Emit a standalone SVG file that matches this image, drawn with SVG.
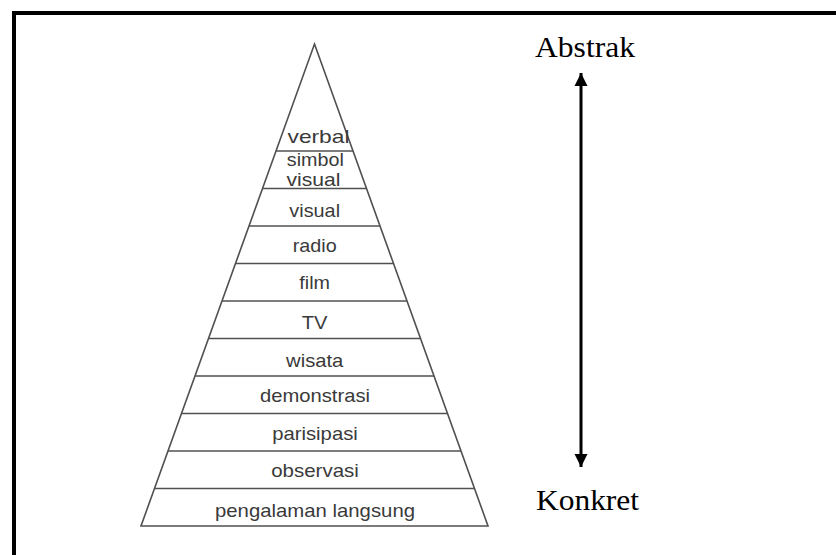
<svg xmlns="http://www.w3.org/2000/svg" width="836" height="555" viewBox="0 0 836 555">
<style>
.edge{stroke:#505050;stroke-width:1.6;fill:none}
.lbl{font-family:"Liberation Sans",Arial,sans-serif;font-size:19px;fill:#3a3a3a;text-anchor:middle}
.big{font-family:"Liberation Serif","Times New Roman",serif;font-size:30px;fill:#000;text-anchor:middle}
</style>
<defs>
<marker id="ah" viewBox="0 0 10 10" refX="10" refY="5" markerWidth="4.4" markerHeight="4.4" orient="auto-start-reverse" markerUnits="strokeWidth">
<path d="M0,0 L10,5 L0,10 z" fill="#000"/>
</marker>
</defs>
<rect width="836" height="555" fill="#fff"/>
<rect x="14" y="13" width="830" height="560" fill="none" stroke="#000" stroke-width="4"/>
<g id="pyramid">
<polygon class="edge" points="314.5,44 488,526 141,526" stroke-linejoin="miter"/>
</g>
<g id="level-verbal">
<line class="edge" x1="276" y1="151" x2="353" y2="151"/>
<text class="lbl" x="318.5" y="143" textLength="62" lengthAdjust="spacingAndGlyphs" font-size="20.5">verbal</text>
</g>
<g id="level-simbol-visual">
<line class="edge" x1="262.5" y1="188.5" x2="366.5" y2="188.5"/>
<text class="lbl" x="315.3" y="166" textLength="57" lengthAdjust="spacingAndGlyphs" font-size="16.5">simbol</text>
<text class="lbl" x="313.5" y="185.5" textLength="54" lengthAdjust="spacingAndGlyphs" font-size="16.5">visual</text>
</g>
<g id="level-visual">
<line class="edge" x1="249" y1="226" x2="380" y2="226"/>
<text class="lbl" x="314.7" y="217" textLength="50.7" lengthAdjust="spacingAndGlyphs">visual</text>
</g>
<g id="level-radio">
<line class="edge" x1="235.5" y1="263.5" x2="393.5" y2="263.5"/>
<text class="lbl" x="314.7" y="252" textLength="44" lengthAdjust="spacingAndGlyphs">radio</text>
</g>
<g id="level-film">
<line class="edge" x1="222" y1="301" x2="407" y2="301"/>
<text class="lbl" x="314.7" y="288.5" textLength="30.7" lengthAdjust="spacingAndGlyphs">film</text>
</g>
<g id="level-tv">
<line class="edge" x1="208.5" y1="338.5" x2="420.5" y2="338.5"/>
<text class="lbl" x="314.5" y="329" textLength="25.7" lengthAdjust="spacingAndGlyphs">TV</text>
</g>
<g id="level-wisata">
<line class="edge" x1="195" y1="376" x2="434" y2="376"/>
<text class="lbl" x="314.7" y="367" textLength="57.3" lengthAdjust="spacingAndGlyphs">wisata</text>
</g>
<g id="level-demonstrasi">
<line class="edge" x1="181.5" y1="413.5" x2="447.5" y2="413.5"/>
<text class="lbl" x="315" y="402" textLength="110" lengthAdjust="spacingAndGlyphs">demonstrasi</text>
</g>
<g id="level-parisipasi">
<line class="edge" x1="168" y1="451" x2="461" y2="451"/>
<text class="lbl" x="315" y="440" textLength="85.7" lengthAdjust="spacingAndGlyphs">parisipasi</text>
</g>
<g id="level-observasi">
<line class="edge" x1="154.5" y1="488.5" x2="474.5" y2="488.5"/>
<text class="lbl" x="315" y="477" textLength="87.7" lengthAdjust="spacingAndGlyphs">observasi</text>
</g>
<g id="level-pengalaman-langsung">
<text class="lbl" x="315" y="516.5" textLength="200" lengthAdjust="spacingAndGlyphs">pengalaman langsung</text>
</g>
<g id="label-abstrak">
<text class="big" x="585" y="57" textLength="100" lengthAdjust="spacingAndGlyphs">Abstrak</text>
</g>
<g id="label-konkret">
<text class="big" x="587.5" y="510" textLength="103" lengthAdjust="spacingAndGlyphs">Konkret</text>
</g>
<g id="connectors">
<line x1="581" y1="73" x2="581" y2="467" stroke="#000" stroke-width="3" marker-start="url(#ah)" marker-end="url(#ah)"/>
</g>
</svg>
